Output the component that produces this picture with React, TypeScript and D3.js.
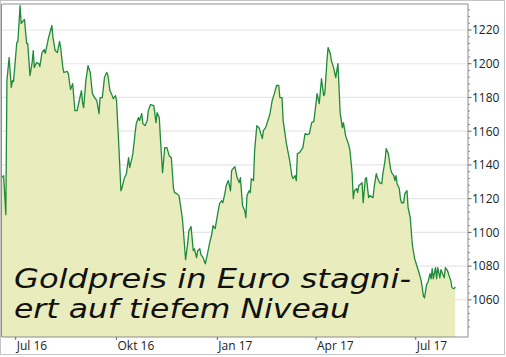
import React from "react";
import * as d3 from "d3";

// Gold price in EUR, daily closes (days since 2016-07-01)
const startDate = new Date(2016, 6, 1);
const dayOffsets = [
  -13, -11, -9, -8, -6, -4, -3, -2, 0, 1, 2, 4, 5, 7, 8, 10, 11, 13, 15, 16, 17, 19, 21, 22, 24, 26, 27, 30, 31, 33,
  34, 36, 38, 40, 41, 43, 44, 47, 48, 50, 52, 54, 56, 58, 60, 61, 62, 64, 66, 68, 70, 72, 74, 76, 77, 79, 81, 83, 84, 86,
  88, 89, 91, 92, 94, 96, 97, 99, 101, 103, 104, 106, 107, 109, 110, 112, 113, 115, 116, 118, 120, 121, 123, 126, 128, 129, 131, 132, 134, 136,
  138, 140, 142, 144, 145, 147, 149, 152, 153, 155, 157, 158, 160, 162, 163, 165, 166, 168, 169, 171, 173, 175, 177, 179, 180, 182, 184, 186, 188, 189,
  191, 192, 194, 196, 197, 199, 200, 202, 204, 205, 207, 209, 210, 211, 213, 214, 215, 217, 218, 220, 222, 225, 226, 228, 231, 232, 234, 236, 238, 240,
  241, 243, 244, 247, 250, 252, 253, 255, 256, 257, 259, 262, 264, 266, 268, 270, 272, 275, 277, 279, 281, 282, 284, 285, 287, 288, 290, 291, 292, 294,
  295, 296, 298, 299, 301, 304, 305, 307, 308, 309, 311, 312, 313, 315, 316, 317, 319, 320, 322, 323, 326, 327, 329, 330, 332, 334, 335, 337, 338, 340,
  342, 343, 345, 346, 347, 348, 350, 351, 352, 354, 355, 357, 358, 360, 361, 362, 364, 366, 368, 370, 372, 373, 375, 376, 378, 379, 380, 381, 383, 384,
  385, 387, 388, 391, 392, 394, 397, 398, 400, 401,
];
const prices = [
  1132.6, 1133.6, 1110.5, 1190.0, 1203.7, 1185.9, 1190.0, 1189.4, 1204.9, 1212.6, 1213.2, 1234.5, 1223.9, 1225.6, 1226.2, 1212.0, 1212.0, 1193.0, 1200.7, 1207.8,
  1197.7, 1200.7, 1200.1, 1198.3, 1206.6, 1208.4, 1206.1, 1215.5, 1217.9, 1222.7, 1215.5, 1207.8, 1206.6, 1213.2, 1209.6, 1197.7, 1194.8, 1195.4, 1194.2, 1184.7,
  1188.2, 1172.2, 1172.2, 1178.2, 1184.1, 1177.0, 1174.0, 1190.0, 1198.9, 1194.8, 1182.3, 1179.9, 1178.2, 1170.4, 1179.9, 1179.9, 1191.8, 1194.8, 1193.6, 1184.1,
  1181.1, 1179.3, 1181.1, 1178.2, 1152.6, 1124.7, 1126.5, 1131.9, 1134.8, 1144.3, 1138.4, 1143.7, 1147.3, 1159.2, 1164.5, 1168.1, 1166.3, 1170.4, 1164.5, 1163.3,
  1166.3, 1172.2, 1175.8, 1175.2, 1165.1, 1171.0, 1168.1, 1156.2, 1135.4, 1150.3, 1150.3, 1145.5, 1144.3, 1125.9, 1123.6, 1123.0, 1121.8, 1108.7, 1101.0, 1083.8,
  1093.9, 1101.0, 1103.4, 1089.1, 1090.3, 1085.0, 1089.1, 1090.3, 1086.8, 1085.0, 1081.4, 1087.4, 1093.9, 1099.2, 1104.0, 1102.2, 1109.9, 1117.0, 1118.8, 1117.6,
  1123.6, 1127.7, 1130.7, 1124.7, 1136.6, 1138.4, 1139.0, 1132.5, 1129.5, 1132.5, 1115.8, 1112.9, 1108.7, 1121.8, 1124.7, 1123.6, 1131.9, 1130.7, 1148.5, 1163.3,
  1162.1, 1155.6, 1160.4, 1162.1, 1168.1, 1170.4, 1178.2, 1182.3, 1187.1, 1187.1, 1179.9, 1179.9, 1166.3, 1152.6, 1142.5, 1133.6, 1131.9, 1133.6, 1130.7, 1146.7,
  1147.3, 1150.3, 1158.6, 1158.0, 1158.6, 1165.1, 1165.7, 1182.3, 1176.4, 1191.2, 1181.1, 1182.3, 1201.9, 1209.6, 1206.1, 1201.9, 1197.7, 1194.8, 1191.8, 1200.1,
  1185.9, 1171.0, 1162.1, 1165.1, 1157.4, 1151.5, 1148.5, 1134.8, 1120.0, 1124.7, 1125.9, 1123.6, 1127.7, 1128.9, 1129.5, 1117.6, 1131.9, 1132.5, 1120.6, 1121.8,
  1120.6, 1126.5, 1134.8, 1132.5, 1129.5, 1128.9, 1134.8, 1142.5, 1149.7, 1146.7, 1137.8, 1135.4, 1133.6, 1130.7, 1133.6, 1128.9, 1125.9, 1120.0, 1117.6, 1117.6,
  1123.0, 1124.7, 1114.7, 1108.7, 1099.8, 1092.1, 1084.4, 1080.2, 1076.1, 1071.3, 1062.4, 1061.2, 1069.5, 1070.1, 1075.5, 1072.5, 1078.5, 1072.5, 1079.1, 1072.5,
  1079.1, 1073.1, 1077.9, 1073.1, 1079.1, 1077.3, 1071.3, 1067.2, 1066.6, 1067.8,
];
const yTicks = [1060, 1080, 1100, 1120, 1140, 1160, 1180, 1200, 1220];
const xTickDates = ["2016-07-01", "2016-10-01", "2017-01-01", "2017-04-01", "2017-07-01"];
const xTickLabels = ["Jul 16", "Okt 16", "Jan 17", "Apr 17", "Jul 17"];
const titleLines = ["Goldpreis in Euro stagni-", "ert auf tiefem Niveau"];

const W = 506;
const H = 357;
const L = 2;
const R = 468;
const T = 4;
const B = 337;

export default function App() {
  const data = dayOffsets.map((d, i) => ({ date: d3.timeDay.offset(startDate, d), v: prices[i] }));
  const x = d3
    .scaleTime()
    .domain([new Date(2016, 5, 18, 12), new Date(2017, 7, 17, 16)])
    .range([L, R]);
  const y = d3.scaleLinear().domain([1038, 1236]).range([B, 3]);
  const area = d3
    .area<{ date: Date; v: number }>()
    .x((d) => x(d.date))
    .y0(B)
    .y1((d) => y(d.v));
  const line = d3
    .line<{ date: Date; v: number }>()
    .x((d) => x(d.date))
    .y((d) => y(d.v));
  const minorTicks = d3.range(1040, 1236, 4).filter((v) => v % 20 !== 0);
  const parse = d3.timeParse("%Y-%m-%d");
  const font = "'Open Sans', 'Noto Sans', sans-serif";

  return (
    <svg width={W} height={H} style={{ position: "absolute", left: 0, top: 0, background: "#fff" }}>
      <defs>
        <clipPath id="plot">
          <rect x={L} y={T} width={R - L} height={B - T} />
        </clipPath>
      </defs>
      <rect x={0.5} y={0.5} width={504} height={354} fill="#fff" stroke="#c4c4c4" />
      {yTicks.map((t) => (
        <line key={t} x1={L} x2={R} y1={y(t)} y2={y(t)} stroke="#e6e6e6" strokeWidth={1.2} />
      ))}
      <g clipPath="url(#plot)">
        <path d={area(data) || ""} fill="#e9ecbd" />
        <path d={line(data) || ""} fill="none" stroke="#1f8a3b" strokeWidth={1.3} strokeLinejoin="round" />
      </g>
      <g
        fontFamily="'DejaVu Sans', sans-serif"
        fontStyle="italic"
        fontWeight={200}
        fontSize={26}
        fill="#111"
        style={{ fontVariantLigatures: "none", fontFeatureSettings: "'liga' 0" }}
      >
        <text x={14} y={288} textLength={397} lengthAdjust="spacingAndGlyphs">
          {titleLines[0]}
        </text>
        <text x={14} y={318} textLength={336} lengthAdjust="spacingAndGlyphs">
          {titleLines[1]}
        </text>
      </g>
      <path d={`M${L},${T}H${R}V${B}H${L}`} fill="none" stroke="#8c8c8c" strokeWidth={1} />
      <line x1={1.5} x2={1.5} y1={T} y2={B} stroke="#8c8c8c" />
      {minorTicks.map((t) => (
        <line key={"m" + t} x1={R} x2={R + 2} y1={y(t)} y2={y(t)} stroke="#8c8c8c" />
      ))}
      {yTicks.map((t) => (
        <g key={"l" + t}>
          <line x1={R} x2={R + 3.5} y1={y(t)} y2={y(t)} stroke="#666" />
          <text x={R + 4} y={y(t) + 4.3} fontFamily={font} fontSize={12} fill="#222">
            {t}
          </text>
        </g>
      ))}
      {xTickDates.map((ds, i) => {
        const px = x(parse(ds) as Date);
        return (
          <g key={ds}>
            <line x1={px} x2={px} y1={B} y2={B + 3} stroke="#666" />
            <text x={px + 1} y={350} fontFamily={font} fontSize={12} fill="#222">
              {xTickLabels[i]}
            </text>
          </g>
        );
      })}
    </svg>
  );
}
